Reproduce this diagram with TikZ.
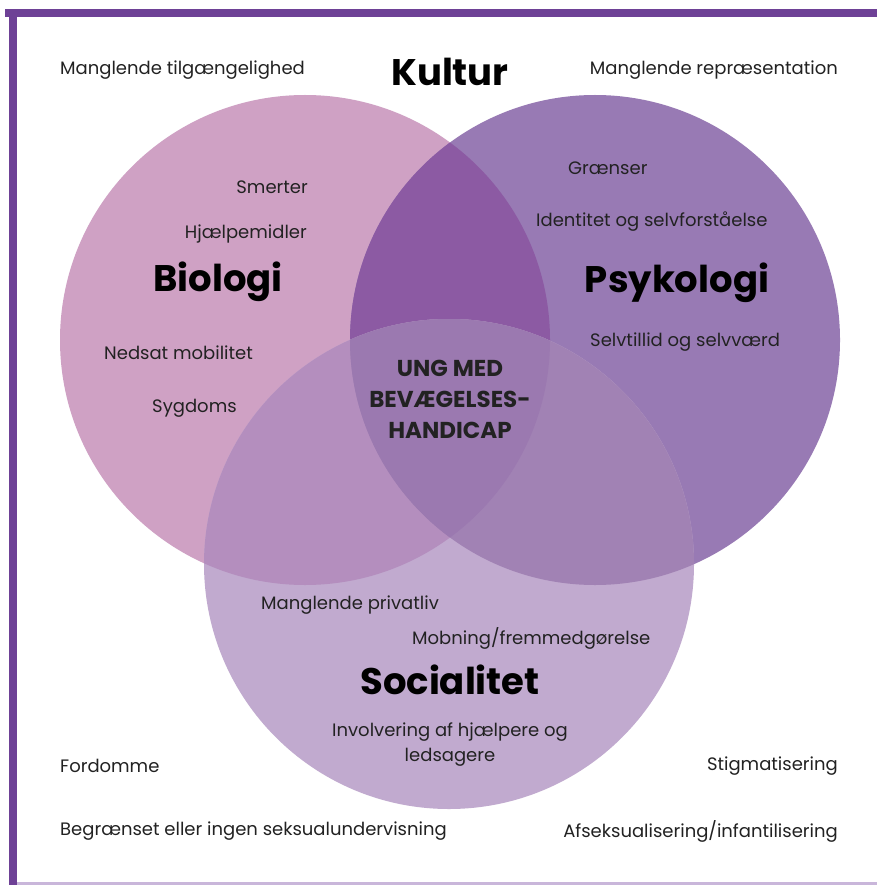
\documentclass[tikz,border=0pt]{standalone}
\usepackage{fontspec}
\setmainfont{Poppins}

\definecolor{framepurple}{HTML}{6E4196}
\definecolor{framelight}{HTML}{C9B6DA}
\definecolor{biofill}{HTML}{CFA1C4}
\definecolor{psyfill}{HTML}{987AB4}
\definecolor{biopsyfill}{HTML}{8C5AA3}
\definecolor{socfill}{HTML}{C1AACF}
\definecolor{socbiofill}{HTML}{B48EBE}
\definecolor{socpsyfill}{HTML}{A182B4}
\definecolor{corefill}{HTML}{9B79B0}
\definecolor{textdark}{HTML}{222222}

\tikzset{
  item/.style={inner sep=0pt,text=textdark,font=\fontsize{18}{25}\selectfont},
  title/.style={inner sep=0pt,text=black,font=\fontsize{37}{44}\selectfont\bfseries},
  core/.style={inner sep=0pt,text=textdark,align=center,
    font=\fontsize{23}{31}\selectfont\bfseries}
}

\begin{document}
\begin{tikzpicture}[x=1pt,y=-1pt]
  \useasboundingbox (0,0) rectangle (877,885);
  \fill[white] (0,0) rectangle (877,885);
  % frame
  \fill[framepurple] (5,9) rectangle (877,17);
  \fill[framepurple] (9,9) rectangle (17,885);
  \fill[framelight] (17,882) rectangle (877,885);
  % circles
  \coordinate (bio) at (305,340);
  \coordinate (psy) at (595,340);
  \coordinate (soc) at (449,564);
  \fill[biofill] (bio) circle[radius=245];
  \fill[psyfill] (psy) circle[radius=245];
  \begin{scope}
    \clip (bio) circle[radius=245];
    \fill[biopsyfill] (psy) circle[radius=245];
  \end{scope}
  \fill[socfill] (soc) circle[radius=245];
  \begin{scope}
    \clip (soc) circle[radius=245];
    \fill[socbiofill] (bio) circle[radius=245];
    \fill[socpsyfill] (psy) circle[radius=245];
    \clip (bio) circle[radius=245];
    \fill[corefill] (psy) circle[radius=245];
  \end{scope}
  % kultur
  \node[title] (kultur) at (450,72) {Kultur};
  \node[item,anchor=west] (tilg) at (60,70) {Manglende tilgængelighed};
  \node[item,anchor=east] (repr) at (838,70) {Manglende repræsentation};
  \node[item,anchor=west] (fordom) at (60,766) {Fordomme};
  \node[item,anchor=east] (stigma) at (838,766) {Stigmatisering};
  \node[item,anchor=west] (seksu) at (60,831) {Begrænset eller ingen seksualundervisning};
  \node[item,anchor=east] (afseks) at (838,831) {Afseksualisering/infantilisering};
  % biologi
  \node[title] (biologi) at (218,282) {Biologi};
  \node[item,anchor=east] (smert) at (308,187) {Smerter};
  \node[item,anchor=east] (hjaelp) at (307,234) {Hjælpemidler};
  \node[item,anchor=west] (mobil) at (104,353) {Nedsat mobilitet};
  \node[item,anchor=west] (sygd) at (152,408) {Sygdoms};
  % psykologi
  \node[title] (psykologi) at (677,283) {Psykologi};
  \node[item,anchor=west] (graens) at (568,168) {Grænser};
  \node[item,anchor=west] (ident) at (536,222) {Identitet og selvforståelse};
  \node[item,anchor=west] (selvt) at (590,342) {Selvtillid og selvværd};
  % socialitet
  \node[title] (socialitet) at (450,680) {Socialitet};
  \node[item,anchor=west] (privat) at (261,605) {Manglende privatliv};
  \node[item,anchor=west] (mobn) at (412,638) {Mobning/fremmedgørelse};
  \node[item,align=center] (involv) at (450,745)
    {Involvering af hjælpere og\\ledsagere};
  % center
  \node[core] (ung) at (450,399) {UNG MED\\BEVÆGELSES-\\HANDICAP};
\end{tikzpicture}
\end{document}
